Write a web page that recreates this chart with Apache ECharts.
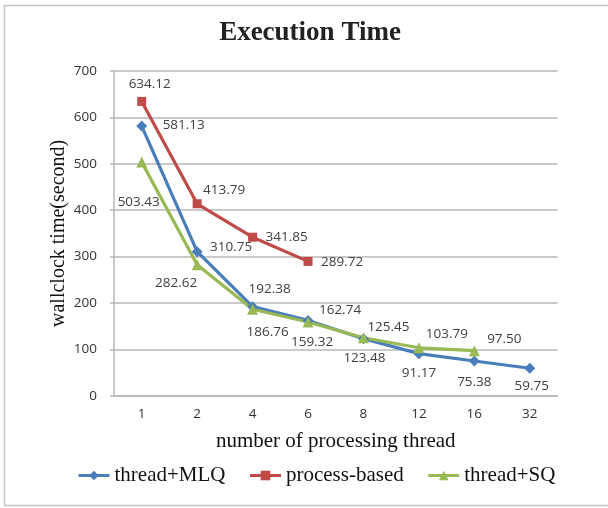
<!DOCTYPE html>
<html lang="en">
<head>
<meta charset="UTF-8">
<title>Execution Time</title>
<style>
    html, body { margin: 0; padding: 0; background: #fff; }
    #chart { width: 608px; height: 508px; }
</style>
</head>
<body>
<div id="chart"></div>
<script src="https://cdn.jsdelivr.net/npm/echarts@6/dist/echarts.min.js"></script>
<script>
    // data
    var threads = ['1', '2', '4', '6', '8', '12', '16', '32'];
    var threadMLQ = [581.13, 310.75, 192.38, 162.74, 123.48, 91.17, 75.38, 59.75];
    var processBased = [634.12, 413.79, 341.85, 289.72];
    var threadSQ = [503.43, 282.62, 186.76, 159.32, 125.45, 103.79, 97.50];

    // where each value label sits relative to its point (px)
    var mlqOffsets = [[42, -1], [34, -4], [17, -17], [32, -10], [1, 20], [0, 20], [0, 21], [2, 18]];
    var procOffsets = [[8, -17], [27, -14], [34, 0], [34, 1]];
    var sqOffsets = [[-3, 40], [-21, 18], [15, 23], [4, 20], [25, -11], [28, -14], [30, -12]];

    var serif = '"Liberation Serif", "Times New Roman", serif';
    var sans = '"Open Sans", sans-serif';

    function withLabels (values, offsets) {
        return values.map(function (v, i) {
            return {
                value: v,
                label: { offset: offsets[i] }
            };
        });
    }

    function lineSeries (name, values, offsets, color, symbol, size) {
        return {
            name: name,
            type: 'line',
            data: withLabels(values, offsets),
            symbol: symbol,
            symbolSize: size,
            showAllSymbol: true,
            lineStyle: { color: color, width: 3.2 },
            itemStyle: { color: color },
            label: {
                show: true,
                position: 'inside',
                color: '#404040',
                fontFamily: sans,
                fontSize: 13.5,
                formatter: function (p) { return p.value.toFixed(2); }
            },
            emphasis: { disabled: true }
        };
    }

    var myChart = echarts.init(document.getElementById('chart'));

    var option = {
        backgroundColor: '#fff',
        animation: false,
        title: {
            text: 'Execution Time',
            left: 310,
            textAlign: 'center',
            top: 20,
            padding: 0,
            textStyle: { fontFamily: serif, fontSize: 27, fontWeight: 'bold', color: '#222' }
        },
        graphic: [{
            type: 'rect',
            shape: { x: 4.5, y: 5.5, width: 620, height: 500 },
            style: { fill: 'none', stroke: '#c4c4c4', lineWidth: 1.5 },
            silent: true
        }],
        legend: {
            data: ['thread+MLQ', 'process-based', 'thread+SQ'],
            left: 72,
            top: 460,
            itemWidth: 31,
            itemHeight: 12,
            itemGap: 23,
            lineStyle: { width: 3 },
            textStyle: { fontFamily: serif, fontSize: 21, color: '#111' }
        },
        grid: { left: 114, right: 50.5, top: 70.8, bottom: 112 },
        xAxis: {
            type: 'category',
            data: threads,
            boundaryGap: true,
            name: 'number of processing thread',
            nameLocation: 'middle',
            nameGap: 35,
            nameMoveOverlap: false,
            nameTextStyle: { fontFamily: serif, fontSize: 21, color: '#111' },
            axisLine: { lineStyle: { color: '#b8b8b8', width: 1.5 } },
            axisTick: { show: false },
            axisLabel: { fontFamily: sans, fontSize: 13.5, color: '#333', margin: 11 }
        },
        yAxis: {
            type: 'value',
            min: 0,
            max: 700,
            interval: 100,
            name: 'wallclock time(second)',
            nameLocation: 'middle',
            nameGap: 45,
            nameMoveOverlap: false,
            nameTextStyle: { fontFamily: serif, fontSize: 20, color: '#111' },
            axisLine: { show: true, lineStyle: { color: '#b8b8b8', width: 1.5 } },
            axisTick: { show: true, length: 4, lineStyle: { color: '#b8b8b8', width: 1.5 } },
            splitLine: { lineStyle: { color: '#b8b8b8', width: 1.5 } },
            axisLabel: { fontFamily: sans, fontSize: 13.5, color: '#333', margin: 17 }
        },
        series: [
            lineSeries('thread+MLQ', threadMLQ, mlqOffsets, '#4a7ebb', 'diamond', 11),
            lineSeries('process-based', processBased, procOffsets, '#be4b48', 'rect', 9),
            lineSeries('thread+SQ', threadSQ, sqOffsets, '#98b954', 'triangle', 11)
        ]
    };

    myChart.setOption(option);
</script>
</body>
</html>
